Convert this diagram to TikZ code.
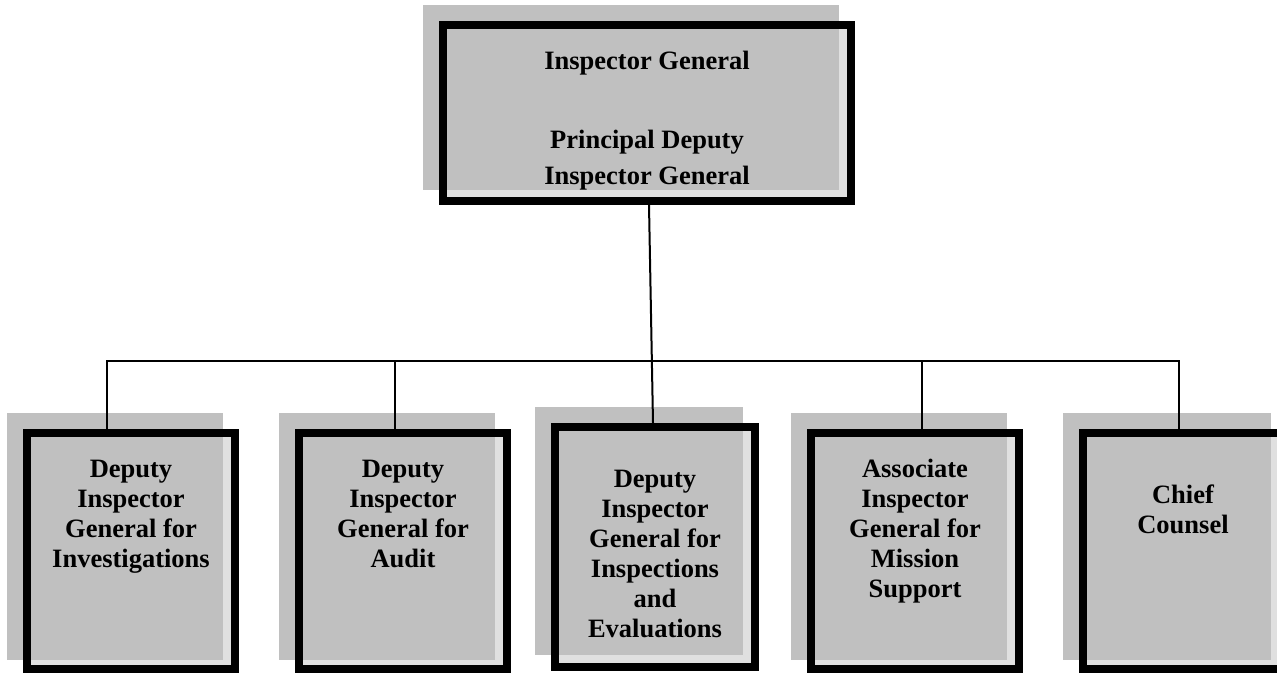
\documentclass[tikz,border=0pt]{standalone}
\usepackage{fontspec}
\setmainfont{Liberation Serif}
\definecolor{shadowgray}{RGB}{192,192,192}
\definecolor{lightstrip}{RGB}{224,224,224}
\begin{document}
\begin{tikzpicture}[x=1pt,y=-1pt,
  frame/.style={draw=black, line width=8pt, rectangle, inner sep=0pt},
  txt/.style={align=center, font=\fontsize{26.5}{30}\selectfont\bfseries, inner sep=0pt, anchor=north},
  conn/.style={draw=black, line width=2pt}]
\useasboundingbox (0,0) rectangle (1277,674);

% top box
\fill[lightstrip] (443,25) rectangle (851,201);
\fill[shadowgray] (423,5) rectangle (839,190);
\node[frame, minimum width=408pt, minimum height=176pt] (ig) at (647,113) {};

% bottom boxes
\fill[lightstrip] (27,433) rectangle (235,669);
\fill[shadowgray] (7,413) rectangle (223,660);
\node[frame, minimum width=208pt, minimum height=236pt] (b1) at (131,551) {};

\fill[lightstrip] (299,433) rectangle (507,669);
\fill[shadowgray] (279,413) rectangle (495,660);
\node[frame, minimum width=208pt, minimum height=236pt] (b2) at (403,551) {};

\fill[lightstrip] (555,427) rectangle (755,667);
\fill[shadowgray] (535,407) rectangle (743,655);
\node[frame, minimum width=200pt, minimum height=240pt] (b3) at (655,547) {};

\fill[lightstrip] (811,433) rectangle (1019,669);
\fill[shadowgray] (791,413) rectangle (1007,660);
\node[frame, minimum width=208pt, minimum height=236pt] (b4) at (915,551) {};

\fill[lightstrip] (1083,433) rectangle (1283,669);
\fill[shadowgray] (1063,413) rectangle (1271,660);
\node[frame, minimum width=200pt, minimum height=236pt] (b5) at (1183,551) {};

% texts
\node[txt, font=\fontsize{26.5}{36}\selectfont\bfseries] (tig) at (647,49)
  {\rule{0pt}{20pt}Inspector General\\[43pt]Principal Deputy\\Inspector General};
\node[txt] (t1) at (131,457) {\rule{0pt}{20pt}Deputy\\Inspector\\General for\\Investigations};
\node[txt] (t2) at (403,457) {\rule{0pt}{20pt}Deputy\\Inspector\\General for\\Audit};
\node[txt] (t3) at (655,467) {\rule{0pt}{20pt}Deputy\\Inspector\\General for\\Inspections\\and\\Evaluations};
\node[txt] (t4) at (915,457) {\rule{0pt}{20pt}Associate\\Inspector\\General for\\Mission\\Support};
\node[txt] (t5) at (1183,483) {\rule{0pt}{20pt}Chief\\Counsel};

% connectors
\coordinate (busL) at (107,361);
\coordinate (busR) at (1179,361);
\coordinate (j2) at (395,361);
\coordinate (j4) at (922,361);
\draw[conn] (busL |- b1.north) -- (busL) -- (busR) -- (busR |- b5.north);
\draw[conn] (j2) -- (j2 |- b2.north);
\draw[conn] (j4) -- (j4 |- b4.north);
\draw[conn] ([xshift=2pt]ig.south) -- ([xshift=-2pt]b3.north);
\end{tikzpicture}
\end{document}
